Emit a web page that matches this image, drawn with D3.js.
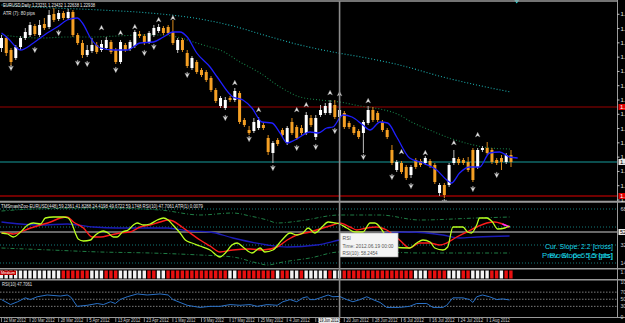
<!DOCTYPE html>
<html>
<head>
<meta charset="utf-8">
<script src="https://cdn.jsdelivr.net/npm/d3@7"></script>
<style>
  body { margin: 0; background: #000; overflow: hidden; }
  svg { display: block; }
  text { font-family: "Liberation Sans", Arial, sans-serif; }
</style>
</head>
<body>
<svg id="chart"></svg>
<script>
// ---------------------------------------------------- data
// daily EURUSD candles, bar 0 = 12 Mar 2012, bar 71 = 19 Jun 2012
const opens = [1.3164,1.3234,1.3150,1.3094,1.3171,1.3234,1.3255,1.3318,1.3255,1.3332,
  1.3311,1.3402,1.3367,1.3409,1.3374,1.3416,1.3255,1.3199,1.3115,1.3143,
  1.3185,1.3150,1.3164,1.3206,1.3150,1.3066,1.3185,1.3157,1.3178,1.3262,
  1.3248,1.3206,1.3255,1.3283,1.3304,1.3311,1.3276,1.3150,1.3220,1.3129,
  1.3024,1.3066,1.3010,1.2996,1.2954,1.2870,1.2758,1.2744,1.2814,1.2800,
  1.2849,1.2660,1.2590,1.2583,1.2604,1.2625,1.2534,1.2429,1.2520,1.2590,
  1.2499,1.2646,1.2611,1.2604,1.2569,1.2674,1.2541,1.2695,1.2709,1.2709,
  1.2765,1.2681,1.2709,1.2639,1.2611,1.2583,1.2569,1.2639,1.2730,1.2709,
  1.2646,1.2590,1.2450,1.2310,1.2359,1.2331,1.2275,1.2380,1.2373,1.2359,
  1.2373,1.2345,1.2149,1.2205,1.2205,1.2359,1.2387,1.2380,1.2366,1.2450,
  1.2331,1.2450,1.2464,1.2450,1.2380,1.2394,1.2366,1.2415];
const highs = [1.3255,1.3248,1.3164,1.3185,1.3248,1.3304,1.3346,1.3332,1.3360,1.3374,
  1.3430,1.3444,1.3430,1.3423,1.3437,1.3430,1.3269,1.3220,1.3185,1.3234,
  1.3206,1.3220,1.3241,1.3220,1.3164,1.3220,1.3199,1.3220,1.3290,1.3283,
  1.3262,1.3283,1.3325,1.3332,1.3318,1.3325,1.3360,1.3234,1.3234,1.3150,
  1.3108,1.3080,1.3024,1.3010,1.2968,1.2884,1.2828,1.2821,1.2828,1.2884,
  1.2863,1.2674,1.2618,1.2674,1.2681,1.2646,1.2555,1.2513,1.2534,1.2604,
  1.2618,1.2674,1.2625,1.2625,1.2716,1.2695,1.2695,1.2765,1.2779,1.2800,
  1.2800,1.2786,1.2723,1.2653,1.2625,1.2597,1.2660,1.2758,1.2751,1.2723,
  1.2660,1.2604,1.2485,1.2380,1.2373,1.2345,1.2345,1.2394,1.2387,1.2408,
  1.2387,1.2359,1.2219,1.2219,1.2359,1.2450,1.2401,1.2394,1.2401,1.2464,
  1.2464,1.2478,1.2506,1.2464,1.2394,1.2415,1.2429,1.2450];
const lows = [1.3136,1.3108,1.3038,1.3080,1.3150,1.3220,1.3241,1.3248,1.3241,1.3290,
  1.3297,1.3346,1.3353,1.3360,1.3360,1.3241,1.3185,1.3094,1.3101,1.3129,
  1.3122,1.3136,1.3150,1.3122,1.3052,1.3052,1.3136,1.3143,1.3164,1.3234,
  1.3185,1.3192,1.3241,1.3269,1.3255,1.3255,1.3185,1.3129,1.3136,1.3024,
  1.3010,1.2982,1.2961,1.2926,1.2856,1.2779,1.2744,1.2730,1.2786,1.2786,
  1.2632,1.2611,1.2555,1.2569,1.2590,1.2590,1.2415,1.2359,1.2478,1.2541,
  1.2485,1.2555,1.2520,1.2555,1.2555,1.2611,1.2520,1.2681,1.2695,1.2695,
  1.2667,1.2667,1.2597,1.2597,1.2555,1.2527,1.2429,1.2625,1.2646,1.2646,
  1.2576,1.2527,1.2345,1.2296,1.2282,1.2240,1.2254,1.2317,1.2331,1.2345,
  1.2324,1.2212,1.2128,1.2114,1.2191,1.2345,1.2345,1.2345,1.2296,1.2226,
  1.2317,1.2436,1.2415,1.2352,1.2345,1.2310,1.2352,1.2331];
const closes = [1.3234,1.3129,1.3066,1.3171,1.3234,1.3276,1.3325,1.3262,1.3325,1.3304,
  1.3395,1.3360,1.3409,1.3374,1.3416,1.3255,1.3199,1.3115,1.3150,1.3185,
  1.3136,1.3192,1.3220,1.3136,1.3066,1.3206,1.3150,1.3206,1.3276,1.3248,
  1.3199,1.3269,1.3304,1.3311,1.3269,1.3269,1.3199,1.3220,1.3150,1.3038,
  1.3094,1.2996,1.2975,1.2940,1.2870,1.2793,1.2814,1.2800,1.2800,1.2863,
  1.2646,1.2625,1.2569,1.2646,1.2660,1.2604,1.2436,1.2499,1.2492,1.2555,
  1.2604,1.2569,1.2534,1.2569,1.2695,1.2625,1.2674,1.2730,1.2758,1.2779,
  1.2681,1.2730,1.2611,1.2611,1.2569,1.2541,1.2646,1.2730,1.2660,1.2660,
  1.2590,1.2541,1.2359,1.2366,1.2296,1.2254,1.2331,1.2331,1.2345,1.2394,
  1.2338,1.2226,1.2205,1.2135,1.2345,1.2394,1.2359,1.2359,1.2310,1.2240,
  1.2450,1.2464,1.2429,1.2366,1.2359,1.2366,1.2415,1.2366];

// moving averages on the price chart: [bar, price]
const maFast = [[0,1.3269],[1.3,1.3234],[4,1.3150],[6.7,1.3199],[9.6,1.3269],[11.7,1.3311],[13.8,1.3360],
  [15.9,1.3374],[17,1.3339],[18.7,1.3234],[20.8,1.3164],[23.5,1.3150],[26.4,1.3150],[29.1,1.3199],
  [31.9,1.3206],[34,1.3241],[36,1.3276],[37.5,1.3276],[39,1.3241],[41,1.3129],[43.8,1.3031],
  [45.3,1.2961],[48.6,1.2821],[50.7,1.2800],[52.6,1.2744],[54.7,1.2646],[56.8,1.2639],[58.5,1.2569],
  [60,1.2499],[61.6,1.2520],[64.8,1.2576],[66.5,1.2569],[68.3,1.2604],[69.6,1.2611],[71.7,1.2695],
  [73.6,1.2681],[75.9,1.2625],[77.4,1.2590],[79.5,1.2646],[81.1,1.2639],[83,1.2541],[85.7,1.2394],
  [88.5,1.2359],[91.4,1.2310],[93.5,1.2240],[94.5,1.2219],[96.2,1.2289],[98.3,1.2331],[100.4,1.2331],
  [102.5,1.2429],[104.6,1.2436],[106.7,1.2401],[108.4,1.2394]];
const maMid = [[0,1.3255],[4,1.3241],[8.2,1.3234],[13.8,1.3241],[19.3,1.3241],[24.3,1.3248],[29.8,1.3255],
  [33.3,1.3255],[36.9,1.3241],[40.3,1.3206],[43.8,1.3171],[45.9,1.3150],[50.1,1.3066],[54.3,1.2989],
  [58.5,1.2891],[62.7,1.2821],[66.9,1.2800],[71.1,1.2786],[75.3,1.2758],[79.5,1.2737],[83.6,1.2695],
  [85.7,1.2653],[89.9,1.2590],[94.1,1.2534],[98.3,1.2492],[102.5,1.2464],[106.9,1.2457]];
const maSlow = [[0,1.3465],[6.7,1.3451],[20.8,1.3430],[31.2,1.3409],[41.7,1.3367],[48.6,1.3318],
  [55.8,1.3248],[62.7,1.3185],[69.6,1.3136],[76.7,1.3094],[83.6,1.3045],[92.7,1.2961],[99.8,1.2905],[106.9,1.2856]];

// fractal arrows
const upBars = [21,25,28,33,36,49,54,62,64,69,71,77,84,89,95,100];
const upPrices = [1.3304,1.3269,1.3311,1.3360,1.3374,1.2919,1.2730,1.2730,1.2765,1.2849,1.2842,1.2793,1.2436,1.2429,1.2499,1.2555];
const downBars = [2,7,12,16,18,24,30,32,39,47,52,57,62,66,70,76,82,86,93,99,104];
const downPrices = [1.3024,1.3150,1.3269,1.3059,1.3052,1.3010,1.3129,1.3171,1.2975,1.2674,1.2527,1.2324,1.2464,1.2471,1.2583,1.2401,1.2261,1.2198,1.2086,1.2177,1.2275];

const priceTicks = [1.34,1.33,1.32,1.31,1.30,1.29,1.28,1.27,1.26,1.25,1.24,1.23,1.22,1.21];
const redLevels = [1.2751, 1.2128];
const bidPrice = 1.2366;

// TMS / TDI window: [bar, value]
const tdiPrice = [[0,44],[1.3,43],[2.5,40],[4,45],[5.5,52],[6.7,54],[8.2,53],[9.2,59],[10.9,60],[13,60],
  [14,59],[14.9,52],[15.5,44],[16.1,38],[17.2,36],[18.7,37],[19.3,40],[20.3,44],[21.4,46],[22.4,44],
  [23.5,40],[24.3,40],[25.4,45],[26.6,47],[27.7,52],[28.5,54],[29.8,52],[31.2,53],[32.7,57],[34,59],
  [35,57],[36,52],[37.5,44],[38.6,37],[40,34],[41.7,31],[43.8,27],[45.9,20],[47,24],[48.4,32],
  [49.5,34],[50.7,30],[52.6,24],[54.3,29],[55.3,25],[57,27],[58.9,37],[60.6,44],[62,42],[63.3,44],
  [64.4,49],[65.8,44],[67.3,50],[68.6,55],[70,54],[71,53],[72.5,49],[74.2,45],[75.9,45],[77.4,54],
  [78.4,54],[79.9,47],[80.9,39],[82.2,30],[85.7,29],[87.2,34],[88.5,37],[90,35],[91,29],[92.7,27],
  [93.7,30],[94.8,50],[96.9,50],[97.9,45],[98.7,44],[99.8,52],[100.4,59],[101.9,59],[103.1,55],[104.2,48],
  [105.7,49],[106.7,51]];
const tdiSignal = [[0,44],[1.3,44],[2.5,43],[4,45],[6.1,49],[8.2,52],[10.3,55],[12.4,59],[13.8,60],[15.1,55],
  [17.2,49],[19.1,40],[20.8,40],[22.9,42],[24.9,44],[27,45],[29.1,50],[31.2,52],[33.3,55],[35,57],
  [36,56],[37.9,50],[39.6,44],[41.7,37],[43.8,31],[45.9,25],[48.6,27],[52.2,28],[54.9,27],[57.9,30],
  [60,37],[62,42],[64.8,45],[67.5,49],[69.6,52],[71,54],[73.2,50],[74.6,47],[76.7,49],[78.8,50],
  [80.9,47],[83.6,37],[85.7,29],[87.8,34],[89.9,34],[92,32],[93.5,34],[95.6,40],[97.7,45],[99.8,50],
  [101.9,54],[103.6,55],[105.2,53],[106.7,50]];
const tdiBase = [[0,55],[4,53],[8.2,52],[13.8,53],[19.3,50],[24.3,49],[29.1,49],[34.8,49],[39.6,46],[43.8,45],
  [48.6,39],[55.8,32],[60,30],[66.2,32],[71,37],[76.7,42],[80.9,44],[85.7,45],[92.7,42],[96.2,39],[99.8,40],[106.7,41]];
const tdiUpper = [[0,66],[6.7,68],[20.8,69],[33.3,67],[41.7,62],[48.6,64],[52.2,61],[55.8,57],[57.9,54],
  [62.5,56],[71,62],[79.5,62],[87.8,57],[99.8,59],[106.7,60]];
const tdiLower = [[0,29],[10.3,27],[20.8,25],[31.2,24],[41.7,22],[48.6,20],[53.7,14],[55.8,12],[59.1,15],
  [64.8,19],[71,25],[79.5,25],[87.8,24],[96.2,24],[106.7,24]];
const tdiLevels = [68, 50, 32, 14];

// red / white state strip, one per bar (1 = red)
const strip = [0,0,0,0,0,0,0,0,0,0,0,0,0,1,1,1,1,1,1,0,0,0,1,1,1,0,0,0,0,0,0,1,1,0,0,
  1,1,1,1,1,1,1,1,1,1,1,1,1,0,0,1,1,1,1,1,1,1,1,0,1,1,0,0,1,0,0,0,0,0,1,0,0,
  1,1,1,1,1,1,1,1,1,1,1,1,1,1,1,0,0,0,1,1,1,1,0,0,0,1,1,0,0,0,0,1,1,0,1,1];

// RSI(10): [bar, value]
const rsi = [[0,49],[1.9,35],[3.4,43],[5,54],[6.1,49],[7.5,57],[9.6,62],[12.4,59],[13.8,62],[14.5,57],
  [15.9,30],[18,33],[20.1,38],[21.4,35],[22.9,43],[23.9,38],[24.9,49],[26.4,57],[28.5,65],[30.6,62],
  [33.3,65],[35,62],[36,49],[37.5,41],[39,33],[40.3,30],[41.7,27],[43.8,30],[45.9,30],[48,35],
  [50.1,33],[52.2,35],[53.7,30],[55.8,35],[57.9,33],[59.1,43],[60.6,49],[62,43],[63.3,54],[64.2,57],
  [64.8,49],[65.8,49],[66.9,54],[68.6,62],[69.6,57],[71,58],[72.5,49],[73.8,43],[75.3,49],[76.7,57],
  [78,49],[79.5,41],[80.9,27],[83.6,27],[85.7,30],[87.2,38],[89.3,38],[90.6,27],[92.7,27],[93.5,33],
  [94.8,54],[96.9,54],[98.3,49],[99,41],[99.8,57],[101,62],[102.5,57],[104,49],[105.2,51],[106.7,48]];
const rsiLevels = [70, 50, 30];
const rsiTicks = [100, 70, 50, 30, 0];

const dateTickBars = [0,6,12,18,24,30,36,42,48,54,60,66,72,78,84,90,96,102];
const dateTicks = ["12 Mar 2012","20 Mar 2012","28 Mar 2012","5 Apr 2012","13 Apr 2012","23 Apr 2012",
  "1 May 2012","9 May 2012","17 May 2012","25 May 2012","4 Jun 2012","12 Jun 2012","20 Jun 2012",
  "28 Jun 2012","6 Jul 2012","16 Jul 2012","24 Jul 2012","1 Aug 2012"];
const crossBar = 71;

// ---------------------------------------------------- setup
const width = 625, height = 323, plotRight = 617;

const svg = d3.select("#chart").attr("width", width).attr("height", height);
svg.append("rect").attr("width", width).attr("height", height).attr("fill", "#000");

const x = d3.scaleLinear().domain([0, 107]).range([1.5, 511]);
const y = d3.scaleLinear().domain([1.21, 1.35]).range([200, 0]);
const yT = d3.scaleLinear().domain([0, 100]).range([277, 177]);
const yR = d3.scaleLinear().domain([0, 100]).range([317, 281.5]);

const defs = svg.append("defs");
function clip(id, y0, h) {
  defs.append("clipPath").attr("id", id)
    .append("rect").attr("x", 0).attr("y", y0).attr("width", plotRight).attr("height", h);
}
clip("c-main", 2, 199.5);
clip("c-tdi", 203, 65);
clip("c-rsi", 281, 36);

const main = svg.append("g").attr("clip-path", "url(#c-main)");
const tdi = svg.append("g").attr("clip-path", "url(#c-tdi)");
const rsiG = svg.append("g").attr("clip-path", "url(#c-rsi)");

// ---------------------------------------------------- main chart
// horizontal levels
main.selectAll("line.lvl")
  .data(redLevels)
  .join("line")
    .attr("x1", 0).attr("x2", plotRight)
    .attr("y1", d => y(d)).attr("y2", d => y(d))
    .attr("stroke", (d, i) => i === 0 ? "#9a0000" : "#e00000")
    .attr("stroke-width", 1.2);

main.append("line")
  .attr("x1", 0).attr("x2", plotRight)
  .attr("y1", y(bidPrice)).attr("y2", y(bidPrice))
  .attr("stroke", "#179c9c").attr("stroke-width", 1.2);

// moving averages
const maLine = d3.line().x(d => x(d[0])).y(d => y(d[1])).curve(d3.curveMonotoneX);

main.append("path").datum(maSlow)
  .attr("d", maLine).attr("fill", "none")
  .attr("stroke", "#1cb0b0").attr("stroke-width", 1.1).attr("stroke-dasharray", "1,2");

main.append("path").datum(maMid)
  .attr("d", maLine).attr("fill", "none")
  .attr("stroke", "#178048").attr("stroke-width", 1.1).attr("stroke-dasharray", "1,2");

// candles
const bars = d3.range(opens.length);
const bull = i => closes[i] >= opens[i];

main.selectAll("line.wick")
  .data(bars)
  .join("line")
    .attr("x1", i => x(i)).attr("x2", i => x(i))
    .attr("y1", i => y(highs[i])).attr("y2", i => y(lows[i]))
    .attr("stroke", i => bull(i) ? "#bdbdbd" : "#d98a1c")
    .attr("stroke-width", 1);

main.selectAll("rect.body")
  .data(bars)
  .join("rect")
    .attr("x", i => x(i) - 1.5)
    .attr("width", 3)
    .attr("y", i => y(Math.max(opens[i], closes[i])))
    .attr("height", i => Math.max(1, Math.abs(y(opens[i]) - y(closes[i]))))
    .attr("fill", i => bull(i) ? "#ffffff" : "#f5a024");

main.append("path").datum(maFast)
  .attr("d", maLine).attr("fill", "none")
  .attr("stroke", "#1f1fff").attr("stroke-width", 1.3);

// fractal arrows
main.selectAll("path.up")
  .data(upBars)
  .join("path")
    .attr("transform", (d, i) => `translate(${x(d)},${y(upPrices[i])}) scale(0.8)`)
    .attr("d", "M0,-3.5 L3,2.5 L0,0.8 L-3,2.5 Z")
    .attr("fill", "#ececec").attr("stroke", "#808080").attr("stroke-width", 0.5);

main.selectAll("path.down")
  .data(downBars)
  .join("path")
    .attr("transform", (d, i) => `translate(${x(d)},${y(downPrices[i])}) scale(0.8)`)
    .attr("d", "M0,3.5 L3,-2.5 L0,-0.8 L-3,-2.5 Z M-0.5,-0.8 L0.5,-0.8 L0.5,-3.5 L-0.5,-3.5 Z")
    .attr("fill", "#ececec").attr("stroke", "#808080").attr("stroke-width", 0.5);

// titles
svg.append("text").attr("x", 3).attr("y", 7)
  .attr("font-size", 6.2).attr("fill", "#f0f0f0")
  .attr("textLength", 92).attr("lengthAdjust", "spacingAndGlyphs")
  .text("EURUSD,Daily  1.23231 1.23432 1.22638 1.22938");
svg.append("text").attr("x", 3).attr("y", 15)
  .attr("font-size", 5.5).attr("fill", "#e0e0e0")
  .attr("textLength", 32).attr("lengthAdjust", "spacingAndGlyphs")
  .text("ATR (7):   80 pips");

// chart-shift marker
svg.append("path")
  .attr("d", `M${x(108.2) - 2.5},0 L${x(108.2) + 2.5},0 L${x(108.2)},3.5 Z`)
  .attr("fill", "#22e0e0");

// ---------------------------------------------------- TDI window
tdi.selectAll("line.lv")
  .data(tdiLevels)
  .join("line")
    .attr("x1", 0).attr("x2", plotRight)
    .attr("y1", d => yT(d)).attr("y2", d => yT(d))
    .attr("stroke", "#137a7a").attr("stroke-width", 1).attr("stroke-dasharray", "1,2");

const tLine = d3.line().x(d => x(d[0])).y(d => yT(d[1])).curve(d3.curveMonotoneX);

[tdiUpper, tdiLower].forEach(band => {
  tdi.append("path").datum(band)
    .attr("d", tLine).attr("fill", "none")
    .attr("stroke", "#1f7d45").attr("stroke-width", 1).attr("stroke-dasharray", "4,2,1,2");
});

// crosshair horizontal
tdi.append("line")
  .attr("x1", 0).attr("x2", plotRight).attr("y1", 232).attr("y2", 232)
  .attr("stroke", "#d0d0d0").attr("stroke-width", 1);

tdi.append("path").datum(tdiBase)
  .attr("d", tLine).attr("fill", "none").attr("stroke", "#1c1cb8").attr("stroke-width", 1.3);
tdi.append("path").datum(tdiSignal)
  .attr("d", tLine).attr("fill", "none").attr("stroke", "#ff1c1c").attr("stroke-width", 1.4);
tdi.append("path").datum(tdiSignal.slice(-2))
  .attr("d", tLine).attr("fill", "none").attr("stroke", "#ff30ff").attr("stroke-width", 1.4);
tdi.append("path").datum(tdiPrice)
  .attr("d", tLine).attr("fill", "none").attr("stroke", "#b8ff1e").attr("stroke-width", 1.3);

svg.append("text").attr("x", 1).attr("y", 207.6)
  .attr("font-size", 4.8).attr("fill", "#e8e8e8")
  .attr("textLength", 202).attr("lengthAdjust", "spacingAndGlyphs")
  .text("TMSmashZoo-EURUSD(448) 59.2361 41.8288 24.4198 49.6722 59.1748  RSI(10) 47.7061  ATR(1) 0.0079");

// slope text
svg.append("text").attr("x", 613).attr("y", 249).attr("text-anchor", "end")
  .attr("font-size", 7.5).attr("fill", "#18d8e8")
  .attr("textLength", 68).attr("lengthAdjust", "spacingAndGlyphs")
  .text("Cur. Slope: 2.2 [cross]");
svg.append("text").attr("x", 613).attr("y", 258).attr("text-anchor", "end")
  .attr("font-size", 7.5).attr("fill", "#18d8e8")
  .attr("textLength", 71).attr("lengthAdjust", "spacingAndGlyphs")
  .text("Prev. Slope: 5.5 [pts]");
svg.append("text").attr("x", 613).attr("y", 258).attr("text-anchor", "end")
  .attr("font-size", 7.5).attr("fill", "#18d8e8").attr("opacity", 0.8)
  .attr("textLength", 64).attr("lengthAdjust", "spacingAndGlyphs")
  .text("Row: 6.6 [crots]");

// ---------------------------------------------------- state strip
svg.append("g").selectAll("rect")
  .data(bars)
  .join("rect")
    .attr("x", i => x(i) - 1.8)
    .attr("width", 3.4)
    .attr("y", 270.5).attr("height", 8)
    .attr("fill", i => strip[i] ? "#e81010" : "#f2f2f2");
svg.append("rect").attr("x", 0).attr("y", 270.5).attr("width", 16).attr("height", 4.5).attr("fill", "#c00000");
svg.append("text").attr("x", 1).attr("y", 274.3)
  .attr("font-size", 4).attr("fill", "#ffffff")
  .attr("textLength", 14).attr("lengthAdjust", "spacingAndGlyphs")
  .text("Medium");

// ---------------------------------------------------- RSI window
rsiG.selectAll("line.lv")
  .data(rsiLevels)
  .join("line")
    .attr("x1", 0).attr("x2", plotRight)
    .attr("y1", d => yR(d)).attr("y2", d => yR(d))
    .attr("stroke", "#9a9a9a").attr("stroke-width", 0.8).attr("stroke-dasharray", "1.5,1.5");

rsiG.append("path").datum(rsi)
  .attr("d", d3.line().x(d => x(d[0])).y(d => yR(d[1])))
  .attr("fill", "none").attr("stroke", "#2a72c8").attr("stroke-width", 1);

svg.append("text").attr("x", 2).attr("y", 286)
  .attr("font-size", 5).attr("fill", "#e0e0e0")
  .attr("textLength", 30).attr("lengthAdjust", "spacingAndGlyphs")
  .text("RSI(10) 47.7061");

// ---------------------------------------------------- frames and axes
const sep = svg.append("g").attr("stroke", "#9a9a9a");
sep.append("line").attr("x1", 0).attr("x2", plotRight).attr("y1", 1).attr("y2", 1).attr("stroke-width", 1.5);
sep.append("line").attr("x1", 0).attr("x2", width).attr("y1", 201.8).attr("y2", 201.8).attr("stroke-width", 2);
sep.append("line").attr("x1", 0).attr("x2", width).attr("y1", 268.8).attr("y2", 268.8).attr("stroke-width", 1.5);
sep.append("line").attr("x1", 0).attr("x2", width).attr("y1", 279.8).attr("y2", 279.8).attr("stroke-width", 1.5);
sep.append("line").attr("x1", 0).attr("x2", width).attr("y1", 317.5).attr("y2", 317.5).attr("stroke-width", 1);
sep.append("line").attr("x1", plotRight + 0.5).attr("x2", plotRight + 0.5).attr("y1", 0).attr("y2", 318).attr("stroke-width", 1);

// crosshair
svg.append("line")
  .attr("x1", x(crossBar)).attr("x2", x(crossBar)).attr("y1", 1).attr("y2", 318)
  .attr("stroke", "#8c8c8c").attr("stroke-width", 1.6);

// tooltip
const tip = svg.append("g").attr("transform", `translate(${x(crossBar)},233)`);
tip.append("rect").attr("x", 0.5).attr("y", 0).attr("width", 58).attr("height", 24)
  .attr("fill", "#f4f4f4").attr("stroke", "#9a9a9a").attr("stroke-width", 0.6);
tip.append("text").attr("x", 3).attr("y", 6.5).attr("font-size", 5).attr("fill", "#555").text("RSI");
tip.append("text").attr("x", 3).attr("y", 14.5).attr("font-size", 5).attr("fill", "#555")
  .attr("textLength", 51).attr("lengthAdjust", "spacingAndGlyphs").text("Time: 2012.06.19 00:00");
tip.append("text").attr("x", 3).attr("y", 22).attr("font-size", 5).attr("fill", "#555")
  .attr("textLength", 35).attr("lengthAdjust", "spacingAndGlyphs").text("RSI(10): 58.2454");

// right price axis
const axisR = svg.append("g");
axisR.selectAll("text.p")
  .data(priceTicks)
  .join("text")
    .attr("x", 620.5).attr("y", d => y(d) + 2)
    .attr("font-size", 6).attr("fill", "#e0e0e0")
    .text(d => d.toFixed(4));
axisR.selectAll("line.p")
  .data(priceTicks)
  .join("line")
    .attr("x1", plotRight).attr("x2", 619.5)
    .attr("y1", d => y(d)).attr("y2", d => y(d))
    .attr("stroke", "#c0c0c0");

// level labels on the axis
redLevels.forEach(p => {
  axisR.append("rect").attr("x", 618.5).attr("y", y(p) - 3).attr("width", 7).attr("height", 6).attr("fill", "#e00000");
  axisR.append("text").attr("x", 620).attr("y", y(p) + 2).attr("font-size", 6).attr("fill", "#fff").text(p.toFixed(4));
});
axisR.append("rect").attr("x", 618.5).attr("y", y(bidPrice) - 3).attr("width", 7).attr("height", 6).attr("fill", "#e8e8e8");
axisR.append("text").attr("x", 620).attr("y", y(bidPrice) + 2).attr("font-size", 6).attr("fill", "#000").text(bidPrice.toFixed(4));

// TDI axis labels
axisR.selectAll("text.t")
  .data([68, 32, 14])
  .join("text")
    .attr("x", 620.5).attr("y", d => yT(d) + 2)
    .attr("font-size", 5.5).attr("fill", "#d0d0d0")
    .text(d => d.toFixed(1));
axisR.append("rect").attr("x", 618.5).attr("y", 229).attr("width", 7).attr("height", 6).attr("fill", "#e8e8e8");
axisR.append("text").attr("x", 620).attr("y", 234).attr("font-size", 5.5).attr("fill", "#000").text("52.5");

// strip axis label
axisR.append("text").attr("x", 620.5).attr("y", 274).attr("font-size", 5).attr("fill", "#d0d0d0").text("1.0");

// RSI axis labels
axisR.selectAll("text.r")
  .data(rsiTicks)
  .join("text")
    .attr("x", 620.5).attr("y", d => yR(d) + 2)
    .attr("font-size", 5).attr("fill", "#d0d0d0")
    .text(d => d);

// bottom date axis
const axisB = svg.append("g");
axisB.selectAll("line")
  .data(dateTickBars)
  .join("line")
    .attr("x1", d => x(d)).attr("x2", d => x(d))
    .attr("y1", 317.5).attr("y2", 322)
    .attr("stroke", "#a0a0a0").attr("stroke-width", 0.8);
axisB.selectAll("text")
  .data(dateTickBars)
  .join("text")
    .attr("x", d => x(d) + 2).attr("y", 322.3)
    .attr("font-size", 5).attr("fill", "#d0d0d0")
    .attr("textLength", (d, i) => dateTicks[i].length * 2.05).attr("lengthAdjust", "spacingAndGlyphs")
    .text((d, i) => dateTicks[i]);

// crosshair date box
axisB.append("rect").attr("x", x(crossBar) - 21).attr("y", 318).attr("width", 21).attr("height", 5).attr("fill", "#e8e8e8");
axisB.append("text").attr("x", x(crossBar) - 20).attr("y", 322.3)
  .attr("font-size", 4.6).attr("fill", "#000")
  .attr("textLength", 19).attr("lengthAdjust", "spacingAndGlyphs")
  .text("19 Jun 2012");
</script>
</body>
</html>
